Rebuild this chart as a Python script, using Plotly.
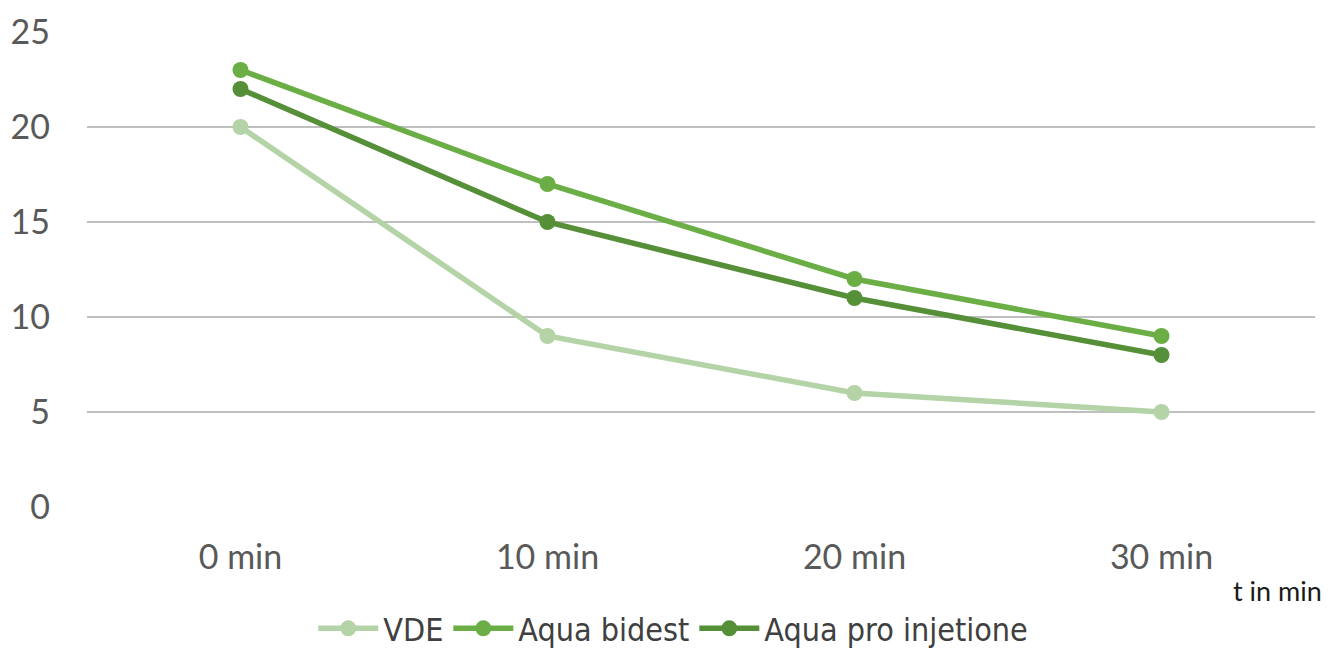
import plotly.graph_objects as go

categories = ["0 min", "10 min", "20 min", "30 min"]
vde = [20, 9, 6, 5]
aqua_bidest = [23, 17, 12, 9]
aqua_pro = [22, 15, 11, 8]
y_ticks = [0, 5, 10, 15, 20, 25]

series = [
    ("VDE", vde, "#b4d3a6"),
    ("Aqua bidest", aqua_bidest, "#6aae45"),
    ("Aqua pro injetione", aqua_pro, "#558f38"),
]

fig = go.Figure()
for name, vals, col in series:
    fig.add_trace(go.Scatter(
        x=categories, y=vals, name=name, mode="lines+markers",
        line=dict(color=col, width=5.5),
        marker=dict(color=col, size=16),
    ))

fig.update_layout(
    width=1328, height=650,
    margin=dict(l=87, r=13, t=32, b=143, autoexpand=False),
    plot_bgcolor="white", paper_bgcolor="white",
    showlegend=True,
    legend=dict(orientation="h", xref="container", x=0.507, xanchor="center",
                yref="container", y=0.033, yanchor="middle",
                font=dict(family="DejaVu Sans Condensed, Roboto", size=32, color="#404040"),
                itemwidth=60, tracegroupgap=0),
    xaxis=dict(type="category", range=[-0.5, 3.5], showgrid=False, zeroline=False,
               showline=False, ticks="", ticklabelstandoff=27,
               tickfont=dict(family="Lato", size=34, color="#595959")),
    yaxis=dict(range=[0, 25], tickvals=y_ticks, showgrid=True, gridcolor="#bfbfbf",
               gridwidth=2, zeroline=False, showline=False, ticks="", ticklabelstandoff=36,
               tickfont=dict(family="Lato", size=34, color="#595959")),
    annotations=[dict(text="t in min", xref="paper", yref="paper", x=1.007, y=-0.175,
                      xanchor="right", yanchor="middle", showarrow=False,
                      font=dict(family="Lato", size=27, color="#1a1a1a"))],
)

fig.write_html("out.html", config={"displayModeBar": False},
               post_script="document.body.style.margin='0';")
